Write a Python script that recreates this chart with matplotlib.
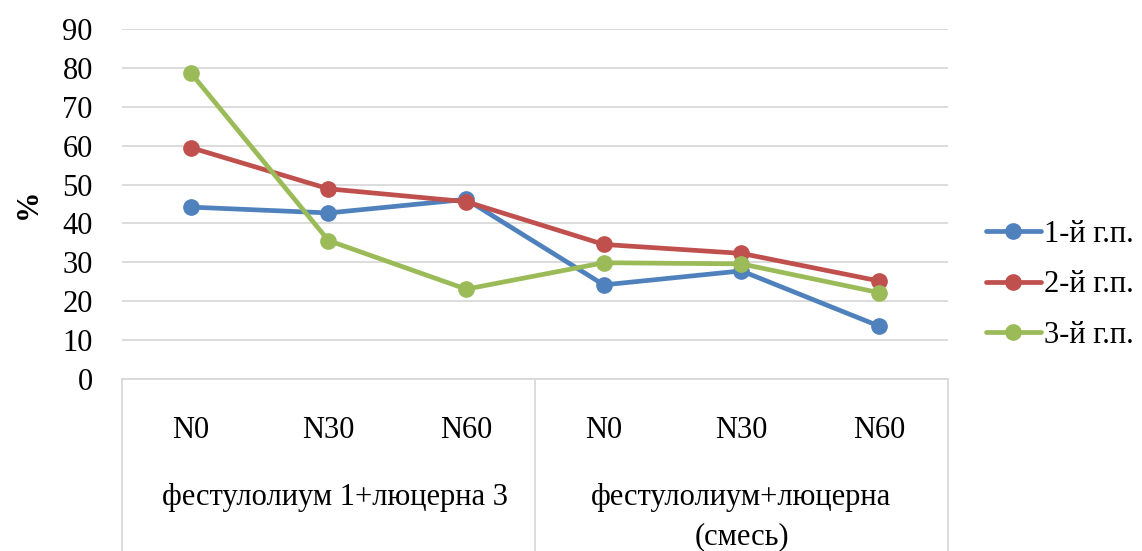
import matplotlib
matplotlib.use("Agg")
import matplotlib.pyplot as plt
from matplotlib.lines import Line2D

# Data
categories = ["N0", "N30", "N60", "N0", "N30", "N60"]
group_line1 = ["фестулолиум 1+люцерна 3", "фестулолиум+люцерна"]
group_line2 = ["", "(смесь)"]
series_names = ["1-й г.п.", "2-й г.п.", "3-й г.п."]
s1 = [44.2, 42.7, 46.2, 24.2, 27.8, 13.6]
s2 = [59.5, 48.9, 45.6, 34.6, 32.3, 25.2]
s3 = [78.7, 35.6, 23.1, 29.9, 29.6, 22.2]
y_ticks = [0, 10, 20, 30, 40, 50, 60, 70, 80, 90]

colors = ["#4F81BD", "#C0504D", "#9BBB59"]
grid_color = "#D9D9D9"
FS = 22

plt.rcParams["font.family"] = ["Liberation Serif", "DejaVu Serif"]

W, H = 1142, 551
fig = plt.figure(figsize=(W / 100, H / 100), dpi=100)
left, right, top, bottom = 122, 948, 29, 379
ax = fig.add_axes([left / W, 1 - bottom / H, (right - left) / W, (bottom - top) / H])

x = list(range(len(categories)))
for vals, c, name in zip([s1, s2, s3], colors, series_names):
    ax.plot(x, vals, color=c, lw=3.4, marker="o", markersize=11,
            solid_capstyle="round", label=name, clip_on=False)

ax.set_xlim(-0.5, len(categories) - 0.5)
ax.set_ylim(0, 90)
ax.set_yticks(y_ticks)
ax.set_yticklabels([str(v) for v in y_ticks], fontsize=FS)
ax.tick_params(axis="y", length=0, pad=21)
ax.set_xticks([])
ax.yaxis.grid(True, color=grid_color, lw=1.3)
ax.set_axisbelow(True)
for s in ["top", "right", "left"]:
    ax.spines[s].set_visible(False)
ax.spines["bottom"].set_color(grid_color)
ax.spines["bottom"].set_linewidth(1.3)

ax.set_ylabel("%", fontsize=FS, fontweight="bold", labelpad=14)

# Two-level category axis below the plot
trans = ax.get_xaxis_transform()
h_ax = bottom - top


def ay(py):
    return (bottom - py) / h_ax


for xi, lab in zip(x, categories):
    ax.text(xi, ay(431), lab, transform=trans, ha="center", va="center",
            fontsize=FS, clip_on=False)

group_size = 3
for gi, (l1, l2) in enumerate(zip(group_line1, group_line2)):
    cx = gi * group_size + (group_size - 1) / 2
    if gi == 0:
        cx += 0.05
    ax.text(cx, ay(497), l1, transform=trans, ha="center", va="center",
            fontsize=FS, clip_on=False)
    if l2:
        ax.text(cx, ay(537), l2, transform=trans, ha="center", va="center",
                fontsize=FS, clip_on=False)

for bx in [-0.5, 2.5, 5.5]:
    ax.add_line(Line2D([bx, bx], [0, ay(H + 5)], transform=trans,
                       color=grid_color, lw=1.3, clip_on=False))

ax.legend(loc="center left", bbox_to_anchor=((986 - left) / (right - left), ay(285)),
          frameon=False, fontsize=FS, handlelength=1.8, handletextpad=0.1,
          labelspacing=0.7, borderaxespad=0, borderpad=0)

fig.savefig("out.png", dpi=100, facecolor="white")
